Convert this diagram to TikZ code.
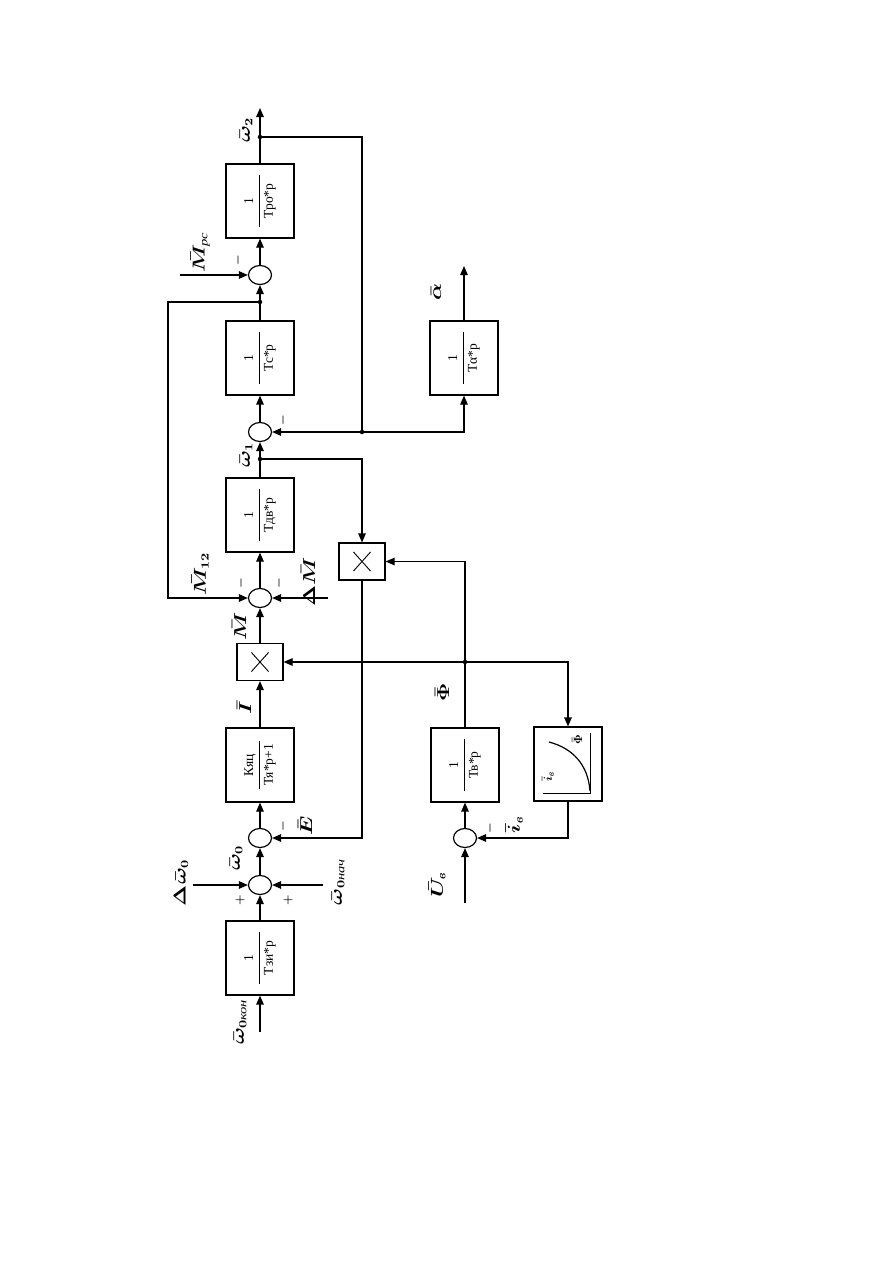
\documentclass[tikz,border=0pt]{standalone}
\usepackage{amsmath}
\usepackage{fontspec}
\setmainfont{Liberation Serif}
\usetikzlibrary{arrows.meta,shapes.geometric}
\newcommand{\tfr}[3][52pt]{\rotatebox{90}{$\genfrac{}{}{0.6pt}{0}{\makebox[#1]{#2}}{\makebox[#1]{#3}}$}}
\newcommand{\lb}[1]{\scalebox{1.3}[1]{$#1$}}
\begin{document}
\begin{tikzpicture}[x=1pt,y=-1pt,
  line/.style={line width=1.2pt},
  arr/.style={line width=1.2pt,-{Triangle[length=9pt,width=7.5pt]}},
  blk/.style={draw,line width=1.2pt,minimum width=68pt,minimum height=74pt,inner sep=0pt,font=\fontsize{13.5}{15}\selectfont},
  mul/.style={draw,line width=1.2pt,minimum width=46pt,minimum height=37pt,inner sep=0pt},
  sum/.style={draw,ellipse,line width=1.2pt,minimum width=23pt,minimum height=19pt,inner sep=0pt},
  lbl/.style={rotate=90,inner sep=0pt,font=\fontsize{16}{18}\selectfont\boldmath},
  sgn/.style={rotate=90,inner sep=0pt,font=\fontsize{12}{14}\selectfont\boldmath},
  jdot/.style={circle,fill,inner sep=0pt,minimum size=4.5pt}]
\useasboundingbox (0,0) rectangle (893,1263);
% main column
\coordinate (in0) at (260,1032);
\node[blk] (tzi) at (260,958) {\tfr{1}{Тзи*р}};
\node[sum] (s1) at (260,885) {};
\node[sum] (s2) at (260,838) {};
\node[blk] (kya) at (260,765) {\tfr[48pt]{Кяц}{Тя*р+1}};
\node[mul] (m1) at (260,662) {};
\node[sum] (s4) at (260,598) {};
\node[blk] (tdv) at (260,515) {\tfr{1}{Тдв*р}};
\node[jdot] (d1) at (260,459) {};
\node[sum] (s5) at (260,432) {};
\node[blk] (tc) at (260,358) {\tfr{1}{Тс*р}};
\node[jdot] (d2) at (260,302) {};
\node[sum] (s6) at (260,275) {};
\node[blk] (tpo) at (260,201) {\tfr{1}{Тро*р}};
\node[jdot] (d3) at (260,137) {};
\coordinate (out2) at (260,108);
% second column
\node[blk] (ta) at (464,358) {\tfr{1}{Тα*р}};
\coordinate (outa) at (464,266);
\node[sum] (s3) at (465,838) {};
\node[blk] (tv) at (465,765) {\tfr{1}{Тв*р}};
\node[jdot] (d4) at (465,662) {};
\node[mul] (m2) at (362,561.5) {};
\node[blk] (nl) at (568,764) {};
\node[jdot] (d5) at (362,432) {};
\coordinate (uv) at (465,903);
% multiplier crosses
\foreach \m in {m1,m2}{
  \draw[line width=0.9pt] ([shift={(15,9.5)}]\m.north west) -- ([shift={(-15,-9.5)}]\m.south east);
  \draw[line width=0.9pt] ([shift={(15,-9.5)}]\m.south west) -- ([shift={(-15,9.5)}]\m.north east);
}
% nonlinear characteristic
\draw[line width=0.9pt] (590,733) -- (590,793) -- (543,793);
\draw[line width=1.2pt] (549,742) .. controls (572,748) and (588,764) .. (590,791);
\node[lbl,font=\fontsize{13}{15}\selectfont\boldmath] (nlf) at (577,740) {$\bar\Phi$};
\node[lbl,font=\fontsize{13}{15}\selectfont\boldmath] (nli) at (548,777) {$\bar i_{\textit{в}}$};
% main chain
\draw[arr] (in0) -- (tzi.south);
\draw[arr] (tzi.north) -- (s1.south);
\draw[arr] (s1.north) -- (s2.south);
\draw[arr] (s2.north) -- (kya.south);
\draw[arr] (kya.north) -- (m1.south);
\draw[arr] (m1.north) -- (s4.south);
\draw[arr] (s4.north) -- (tdv.south);
\draw[arr] (tdv.north) -- (s5.south);
\draw[arr] (s5.north) -- (tc.south);
\draw[arr] (tc.north) -- (s6.south);
\draw[arr] (s6.north) -- (tpo.south);
\draw[arr] (tpo.north) -- (out2);
% side inputs
\coordinate (dw0) at (193,885);
\coordinate (wn) at (323,885);
\coordinate (dm) at (328,598);
\coordinate (mpc) at (180,275);
\draw[arr] (dw0) -- (s1.west);
\draw[arr] (wn) -- (s1.east);
\draw[arr] (dm) -- (s4.east);
\draw[arr] (mpc) -- (s6.west);
% left loop M12
\coordinate (cL1) at (168,302);
\coordinate (cL2) at (168,598);
\draw[arr] (d2.center) -- (cL1) -- (cL2) -- (s4.west);
% omega2 feedback and alpha
\coordinate (cR1) at (362,137);
\coordinate (cTa) at (464,432);
\draw[line] (d3.center) -- (cR1) -- (d5.center);
\draw[arr] (cTa) -- (s5.east);
\draw[arr] (d5.center) -- (cTa) -- (ta.south);
\draw[arr] (ta.north) -- (outa);
% omega1 to multiplier 2, E feedback
\coordinate (cW1) at (362,459);
\coordinate (cE) at (362,838);
\draw[arr] (d1.center) -- (cW1) -- (m2.north);
\draw[arr] (m2.south) -- (cE) -- (s2.east);
% excitation
\coordinate (cF) at (465,561.5);
\coordinate (cN) at (568,662);
\coordinate (cI) at (568,838);
\draw[arr] (uv) -- (s3.south);
\draw[arr] (s3.north) -- (tv.south);
\draw[line] (tv.north) -- (d4.center);
\draw[arr] (d4.center) -- (cF) -- (m2.east);
\draw[arr] (d4.center) -- (m1.east);
\draw[arr] (d4.center) -- (cN) -- (nl.north);
\draw[arr] (nl.south) -- (cI) -- (s3.east);
% signs
\node[sgn] (p1) at (240,900) {$+$};
\node[sgn] (p2) at (288,900) {$+$};
\node[sgn] (n2) at (283,826) {$-$};
\node[sgn] (n4a) at (241,583) {$-$};
\node[sgn] (n4b) at (279,583) {$-$};
\node[sgn] (n5) at (283,420) {$-$};
\node[sgn] (n6) at (238,260) {$-$};
\node[sgn] (n3) at (490,828) {$-$};
% labels
\node[lbl] (lwk) at (240,1022) {\lb{\bar\omega_{0\textit{кон}}}};
\node[lbl] (ldw) at (181,883) {\lb{\Delta\bar\omega_0}};
\node[lbl] (lwn) at (338,882) {\lb{\bar\omega_{0\textit{нач}}}};
\node[lbl] (lw0) at (236,858) {\lb{\bar\omega_0}};
\node[lbl] (le) at (305,826) {\lb{\bar E}};
\node[lbl] (li) at (244,708) {\lb{\bar I}};
\node[lbl] (lm) at (239,626) {\lb{\bar M}};
\node[lbl] (lm12) at (200,574) {\lb{\bar M_{12}}};
\node[lbl] (ldm) at (308,582) {\lb{\Delta\bar M}};
\node[lbl] (lw1) at (246,455) {\lb{\bar\omega_1}};
\node[lbl] (lmpc) at (200,252) {\lb{\bar M_{\textit{рс}}}};
\node[lbl] (lw2) at (246,130) {\lb{\bar\omega_2}};
\node[lbl] (la) at (436,292) {\lb{\bar\alpha}};
\node[lbl] (lphi) at (442,692) {\lb{\bar\Phi}};
\node[lbl] (luv) at (437,885) {\lb{\bar U_{\textit{в}}}};
\node[lbl] (liv) at (514,825) {\lb{\bar i_{\textit{в}}}};
\end{tikzpicture}
\end{document}
